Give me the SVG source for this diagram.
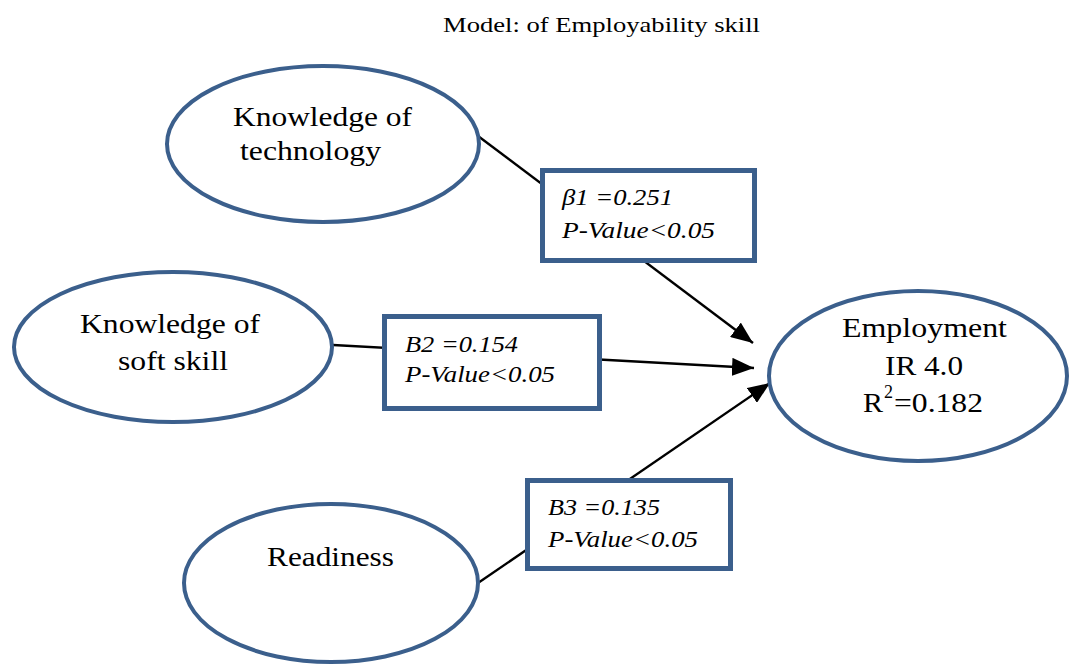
<svg xmlns="http://www.w3.org/2000/svg" width="1069" height="664" viewBox="0 0 1069 664">
<style>
.ell{fill:#fff;stroke:#3B5F8C;stroke-width:4}
.box{fill:#fff;stroke:#3B5F8C;stroke-width:5}
text{font-family:'Times New Roman','Liberation Serif',Tinos,'Nimbus Roman',serif;fill:#000}
.t{font-size:28px}
.i{font-size:24px;font-style:italic}
.title{font-size:22px}
.c{stroke:#000;stroke-width:2.4;fill:none;marker-end:url(#ah)}
</style>
<defs>
<marker id="ah" markerUnits="userSpaceOnUse" markerWidth="22" markerHeight="18" refX="22" refY="9" orient="auto">
<path d="M0,0 L22,9 L0,18 z" fill="#000"/>
</marker>
</defs>
<rect width="1069" height="664" fill="#fff"/>
<text class="title" x="443" y="32" textLength="317" lengthAdjust="spacingAndGlyphs">Model: of Employability skill</text>
<g id="connectors">
<line class="c" x1="470" y1="130" x2="753" y2="343"/>
<line class="c" x1="333" y1="345" x2="754" y2="368"/>
<line class="c" x1="478" y1="583" x2="770" y2="383"/>
</g>
<g id="node-tech">
<ellipse class="ell" cx="323" cy="144" rx="156" ry="78"/>
<text class="t" x="233" y="126" textLength="179" lengthAdjust="spacingAndGlyphs">Knowledge of</text>
<text class="t" x="240" y="160" textLength="141" lengthAdjust="spacingAndGlyphs">technology</text>
</g>
<g id="node-soft">
<ellipse class="ell" cx="173" cy="347" rx="159" ry="75"/>
<text class="t" x="80" y="333" textLength="180" lengthAdjust="spacingAndGlyphs">Knowledge of</text>
<text class="t" x="118" y="370" textLength="110" lengthAdjust="spacingAndGlyphs">soft skill</text>
</g>
<g id="node-ready">
<ellipse class="ell" cx="331" cy="583" rx="147" ry="79"/>
<text class="t" x="267" y="566" textLength="127" lengthAdjust="spacingAndGlyphs">Readiness</text>
</g>
<g id="node-employ">
<ellipse class="ell" cx="918" cy="376" rx="149" ry="85"/>
<text class="t" x="842" y="337" textLength="165" lengthAdjust="spacingAndGlyphs">Employment</text>
<text class="t" x="885" y="375" textLength="78" lengthAdjust="spacingAndGlyphs">IR 4.0</text>
<text class="t" x="863" y="412" textLength="20" lengthAdjust="spacingAndGlyphs">R</text>
<text class="t" x="884" y="398" style="font-size:18px">2</text>
<text class="t" x="894" y="412" textLength="89" lengthAdjust="spacingAndGlyphs">=0.182</text>
</g>
<g id="label-b1">
<rect class="box" x="542.5" y="170.5" width="212" height="90"/>
<text class="i" x="562" y="205" textLength="111" lengthAdjust="spacingAndGlyphs">β1 =0.251</text>
<text class="i" x="562" y="238" textLength="153" lengthAdjust="spacingAndGlyphs">P-Value&lt;0.05</text>
</g>
<g id="label-b2">
<rect class="box" x="384.5" y="316.5" width="215" height="92"/>
<text class="i" x="405" y="352" textLength="113" lengthAdjust="spacingAndGlyphs">B2 =0.154</text>
<text class="i" x="405" y="382" textLength="150" lengthAdjust="spacingAndGlyphs">P-Value&lt;0.05</text>
</g>
<g id="label-b3">
<rect class="box" x="527.5" y="480.5" width="203" height="88"/>
<text class="i" x="548" y="515" textLength="112" lengthAdjust="spacingAndGlyphs">B3 =0.135</text>
<text class="i" x="548" y="547" textLength="150" lengthAdjust="spacingAndGlyphs">P-Value&lt;0.05</text>
</g>
</svg>
